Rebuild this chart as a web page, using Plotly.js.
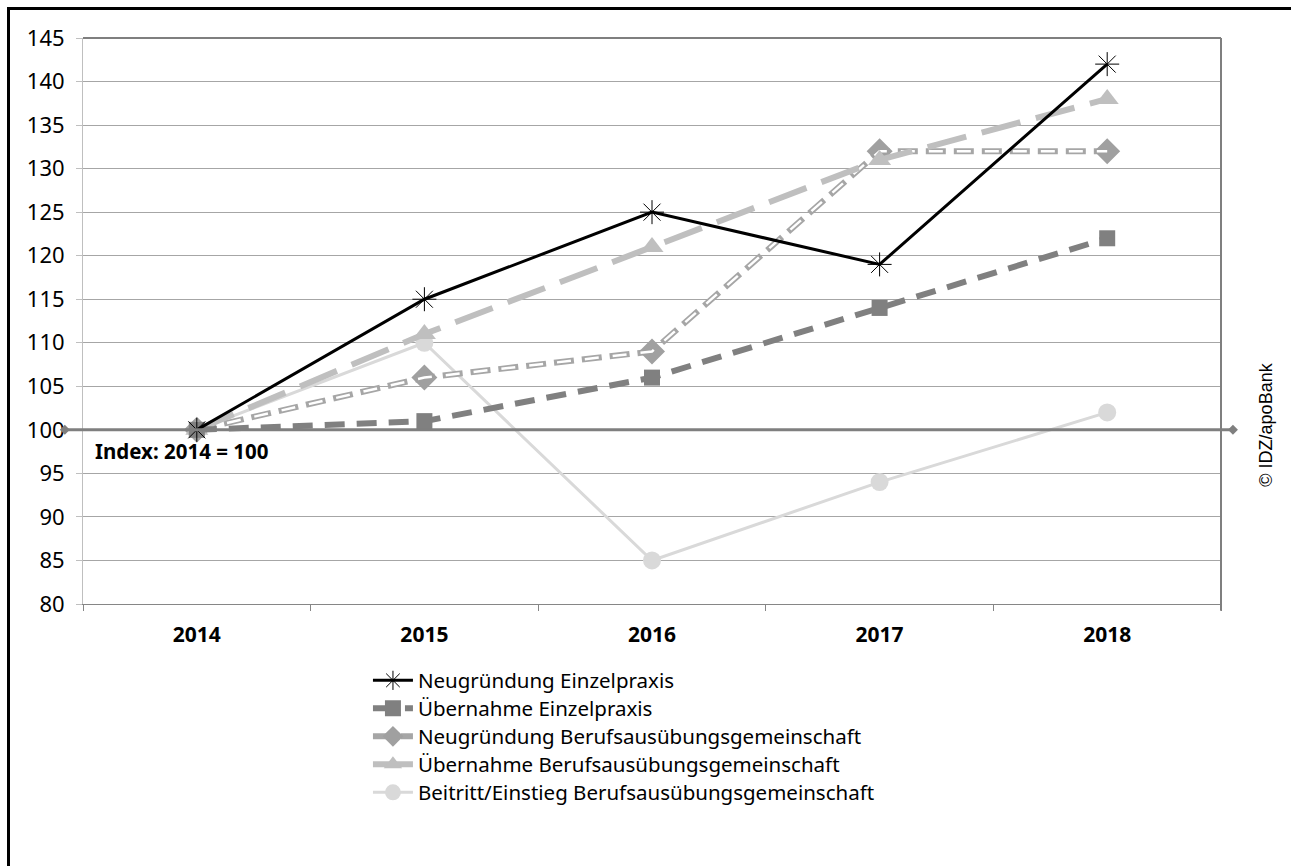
<!DOCTYPE html>
<html>
<head>
<meta charset="utf-8">
<script src="https://cdn.plot.ly/plotly-3.0.1.min.js"></script>
<style>
  html, body { margin: 0; padding: 0; background: #fff; }
  #wrap { position: relative; width: 1291px; height: 866px; overflow: hidden; }
  #chart { position: absolute; left: 0; top: 0; width: 1291px; height: 866px; }
  #frame { position: absolute; left: 7px; top: 7px; width: 1400px; height: 1000px;
           border-left: 3px solid #000; border-top: 3px solid #000; pointer-events: none; }
</style>
</head>
<body>
<div id="wrap"><div id="chart"></div><div id="frame"></div></div>
<script>
const years = ['2014', '2015', '2016', '2017', '2018'];
const neugruendungEinzel = [100, 115, 125, 119, 142];
const uebernahmeEinzel   = [100, 101, 106, 114, 122];
const neugruendungBAG    = [100, 106, 109, 132, 132];
const uebernahmeBAG      = [100, 111, 121, 131, 138];
const beitrittBAG        = [100, 110, 85, 94, 102];
const seriesNames = [
  'Neugründung Einzelpraxis',
  'Übernahme Einzelpraxis',
  'Neugründung Berufsausübungsgemeinschaft',
  'Übernahme Berufsausübungsgemeinschaft',
  'Beitritt/Einstieg Berufsausübungsgemeinschaft'
];
const INDEX_BASE = 100;
const indexLabel = 'Index: 2014 = 100';
const sourceLabel = '© IDZ/apoBank';

const FONT = 'Noto Sans, Open Sans, sans-serif';

const traces = [
  {
    x: years, y: beitrittBAG, name: seriesNames[4], type: 'scatter', mode: 'lines+markers',
    line: { color: '#d9d9d9', width: 3 },
    marker: { symbol: 'circle', size: 18, color: '#d9d9d9' },
    legend: 'legend5'
  },
  {
    x: years, y: neugruendungBAG, name: seriesNames[2], type: 'scatter', mode: 'lines+markers',
    line: { color: '#a6a6a6', width: 6, dash: '20px,8px' },
    marker: { symbol: 'diamond', size: 20, color: '#a0a0a0' },
    legend: 'legend3'
  },
  {
    x: years, y: neugruendungBAG, name: seriesNames[2], type: 'scatter', mode: 'lines',
    line: { color: '#ffffff', width: 2.5, dash: '0px,3px,14px,11px' },
    showlegend: false, hoverinfo: 'skip'
  },
  {
    x: years, y: uebernahmeBAG, name: seriesNames[3], type: 'scatter', mode: 'lines+markers',
    line: { color: '#bfbfbf', width: 6, dash: '40px,16px' },
    marker: { symbol: 'triangle-up', size: 20, color: '#bfbfbf' },
    legend: 'legend4'
  },
  {
    x: years, y: uebernahmeEinzel, name: seriesNames[1], type: 'scatter', mode: 'lines+markers',
    line: { color: '#808080', width: 6, dash: '20px,12px' },
    marker: { symbol: 'square', size: 16, color: '#808080' },
    legend: 'legend2'
  },
  {
    x: years, y: neugruendungEinzel, name: seriesNames[0], type: 'scatter', mode: 'lines+markers',
    line: { color: '#000000', width: 3 },
    marker: { symbol: 'asterisk-open', size: 20, color: '#000000', line: { color: '#000000', width: 1 } },
    legend: 'legend'
  }
];

function legendAt(y) {
  return {
    x: 0.2504, y: y, xanchor: 'left', yanchor: 'middle',
    font: { family: FONT, size: 20.5, color: '#000' },
    bgcolor: 'rgba(0,0,0,0)', itemwidth: 40
  };
}
const legendStep = 28 / 566;
const legendTop = -0.1352;

function diamondAt(xp) {
  return { type: 'path', xref: 'paper', yref: 'y', xsizemode: 'pixel', ysizemode: 'pixel',
    xanchor: xp, yanchor: INDEX_BASE, path: 'M -5 0 L 0 5 L 5 0 L 0 -5 Z',
    fillcolor: '#7f7f7f', line: { width: 0 }, layer: 'above' };
}

const layout = {
  width: 1291, height: 866,
  margin: { l: 83, r: 70, t: 38, b: 262 },
  paper_bgcolor: '#ffffff', plot_bgcolor: '#ffffff',
  font: { family: FONT, color: '#000' },
  showlegend: true,
  legend: legendAt(legendTop),
  legend2: legendAt(legendTop - legendStep),
  legend3: legendAt(legendTop - 2 * legendStep),
  legend4: legendAt(legendTop - 3 * legendStep),
  legend5: legendAt(legendTop - 4 * legendStep),
  xaxis: {
    type: 'category', tickson: 'boundaries', ticks: 'outside', ticklen: 6, tickcolor: '#868686',
    showgrid: false, showline: true, linecolor: '#868686', linewidth: 1,
    tickfont: { family: FONT, size: 21, color: '#000', weight: 'bold' },
    ticklabelstandoff: 12,
    range: [-0.5, 4.5]
  },
  yaxis: {
    range: [80, 145], dtick: 5, tick0: 80,
    showgrid: true, gridcolor: '#a6a6a6', gridwidth: 1,
    showline: true, linecolor: '#bfbfbf', linewidth: 1,
    ticks: 'outside', ticklen: 6, tickcolor: '#bfbfbf',
    ticklabelstandoff: 7,
    zeroline: false,
    tickfont: { family: FONT, size: 22, color: '#000' }
  },
  shapes: [
    { type: 'line', xref: 'paper', yref: 'y', x0: -0.016, x1: 1.0105, y0: INDEX_BASE, y1: INDEX_BASE,
      line: { color: '#7f7f7f', width: 3 }, layer: 'above' },
    diamondAt(-0.016),
    diamondAt(1.0105),
    { type: 'line', xref: 'paper', yref: 'paper', x0: 1, x1: 1, y0: -0.012, y1: 1,
      line: { color: '#7f7f7f', width: 2 }, layer: 'above' },
    { type: 'line', xref: 'paper', yref: 'paper', x0: 0, x1: 1, y0: 1, y1: 1,
      line: { color: '#7f7f7f', width: 2 }, layer: 'below' }
  ],
  annotations: [
    { text: indexLabel, xref: 'paper', yref: 'y', x: 0.0085, y: 97.6, xanchor: 'left', yanchor: 'middle',
      showarrow: false, font: { family: FONT, size: 20.5, color: '#000', weight: 'bold' } },
    { text: sourceLabel, xref: 'paper', yref: 'paper', x: 1.04, y: 0.316, xanchor: 'center', yanchor: 'middle',
      textangle: -90, showarrow: false, font: { family: 'Liberation Sans, Arial, sans-serif', size: 18, color: '#000' } }
  ]
};

Plotly.newPlot('chart', traces, layout, { staticPlot: true, displayModeBar: false });
</script>
</body>
</html>
